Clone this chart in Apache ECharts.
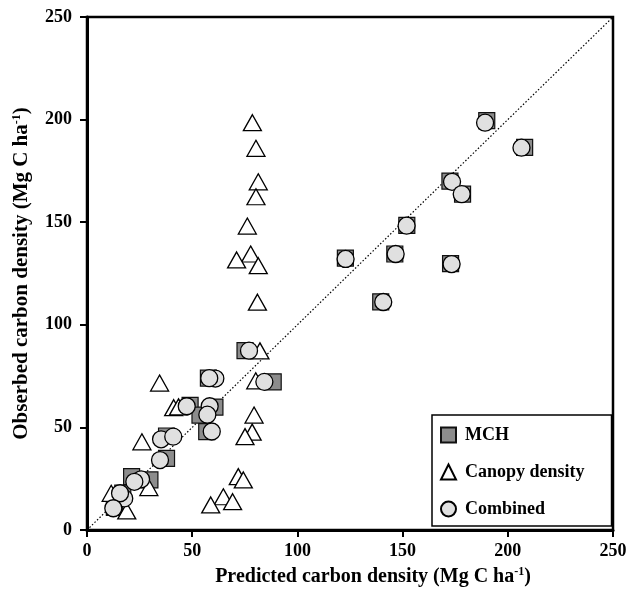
<!DOCTYPE html>
<html>
<head>
<meta charset="utf-8">
<script src="https://cdn.jsdelivr.net/npm/echarts@6/dist/echarts.min.js"></script>
<style>
html,body{margin:0;padding:0;background:#fff;}
#chart{width:630px;height:592px;}
</style>
</head>
<body>
<div id="chart"></div>
<script>
var xTicks = [0, 50, 100, 150, 200, 250];
var yTicks = [0, 50, 100, 150, 200, 250];
var seriesNames = ['MCH', 'Canopy density', 'Combined'];

var mchData = [
  [190, 199.5], [208, 186.5], [172.5, 170], [178.5, 163.7], [152, 148.5],
  [122.8, 132.5], [146.3, 134.5], [172.8, 129.8], [139.6, 111.2],
  [75.1, 87.4], [88.5, 72.2], [57.7, 74], [49, 60.7], [60.8, 59.9],
  [53.7, 56], [56.9, 47.9], [37.8, 45.8], [37.8, 34.9], [29.9, 24.4],
  [21.2, 26], [17, 18], [13, 11]
];
var canopyData = [
  [78.6, 198.5], [80.3, 186.0], [81.4, 169.7], [80.3, 162.4], [76.2, 148.1],
  [77.8, 134.5], [71.1, 131.6], [81.4, 128.8], [81.0, 111.0], [82.2, 87.3],
  [34.5, 71.6], [80.2, 72.7], [41.2, 59.6], [43.5, 60.0], [79.4, 56.0],
  [78.5, 47.7], [75.1, 45.5], [26.1, 43.0], [71.9, 26.0], [74.3, 24.4],
  [64.8, 16.2], [69.2, 13.8], [58.8, 12.2], [29.4, 20.7], [11.5, 17.9],
  [18.9, 9.3]
];
var combinedData = [
  [189.2, 198.5], [206.5, 186.3], [173.5, 169.7], [178.1, 163.7], [151.9, 148.3],
  [122.9, 132.1], [146.7, 134.5], [173.3, 129.6], [140.8, 111.1],
  [77.0, 87.4], [84.3, 72.2], [61.0, 73.8], [58.1, 74.0], [47.4, 60.3],
  [58.3, 60.3], [57.2, 56.2], [59.3, 48.0], [35.2, 44.2], [41.0, 45.5],
  [34.7, 34.1], [25.7, 24.7], [22.5, 23.5], [17.7, 15.4], [15.7, 17.9],
  [12.5, 10.6]
];
var refLine = [[0, 0], [250, 250]];

var serif = '"Liberation Serif", "Times New Roman", serif';
var chart = echarts.init(document.getElementById('chart'), null, {renderer: 'canvas'});

function richName(size) {
  return {
    a: {fontFamily: serif, fontWeight: 'bold', fontSize: size, color: '#000'},
    s: {fontFamily: serif, fontWeight: 'bold', fontSize: 12, color: '#000', padding: [0, 0, 9, 0]}
  };
}

var axisCommon = {
  min: 0, max: 250, interval: 50,
  axisLine: {show: true, onZero: false, lineStyle: {color: '#000', width: 3}},
  axisTick: {show: true, inside: false, length: 7, lineStyle: {color: '#000', width: 2}},
  splitLine: {show: false},
  axisLabel: {color: '#000', fontFamily: serif, fontWeight: 'bold', fontSize: 18},
  nameLocation: 'middle'
};

var option = {
  backgroundColor: '#fff',
  animation: false,
  grid: {left: 87, right: 17, top: 17, bottom: 62, show: true, borderColor: '#000', borderWidth: 2.5, containLabel: false},
  xAxis: Object.assign({}, axisCommon, {
    type: 'value',
    name: '{a|Predicted carbon density (Mg C ha}{s|-1}{a|)}',
    nameGap: 36,
    nameTextStyle: {color: '#000', fontFamily: serif, fontWeight: 'bold', fontSize: 20, padding: [0, 0, 0, 46], rich: richName(20)},
    axisLabel: Object.assign({}, axisCommon.axisLabel, {margin: 12, formatter: function (v) { return xTicks.indexOf(v) >= 0 ? String(v) : ''; }})
  }),
  yAxis: Object.assign({}, axisCommon, {
    type: 'value',
    name: '{a|Obserbed carbon density (Mg C ha}{s|-1}{a|)}',
    nameGap: 55,
    nameTextStyle: {color: '#000', fontFamily: serif, fontWeight: 'bold', fontSize: 21, rich: richName(21)},
    axisLabel: Object.assign({}, axisCommon.axisLabel, {margin: 15, formatter: function (v) { return yTicks.indexOf(v) >= 0 ? String(v) : ''; }})
  }),
  legend: {
    data: [
      {name: seriesNames[0], icon: 'rect'},
      {name: seriesNames[1], icon: 'triangle'},
      {name: seriesNames[2], icon: 'circle'}
    ],
    orient: 'vertical',
    left: 432, top: 415,
    padding: [11, 27, 8, 8],
    itemWidth: 15, itemHeight: 15,
    itemGap: 19,
    borderColor: '#000', borderWidth: 1.5,
    backgroundColor: '#fff',
    textStyle: {color: '#000', fontFamily: serif, fontWeight: 'bold', fontSize: 18, padding: [0, 0, 0, 4]}
  },
  series: [
    {
      name: 'ref', type: 'line', data: refLine, symbol: 'none', silent: true,
      lineStyle: {color: '#000', width: 1.2, type: [1.5, 2]}, z: 1
    },
    {
      name: seriesNames[0], type: 'scatter', data: mchData, symbol: 'rect', symbolSize: 16,
      itemStyle: {color: '#8c8c8c', borderColor: '#111', borderWidth: 1.2, opacity: 1}, z: 2
    },
    {
      name: seriesNames[1], type: 'scatter', data: canopyData, symbol: 'triangle', symbolSize: [18, 16],
      itemStyle: {color: '#fff', borderColor: '#000', borderWidth: 1.3, opacity: 1}, z: 3
    },
    {
      name: seriesNames[2], type: 'scatter', data: combinedData, symbol: 'circle', symbolSize: 17,
      itemStyle: {color: '#e0e0e0', borderColor: '#000', borderWidth: 1.3, opacity: 1}, z: 4
    }
  ]
};
chart.setOption(option);
</script>
</body>
</html>
